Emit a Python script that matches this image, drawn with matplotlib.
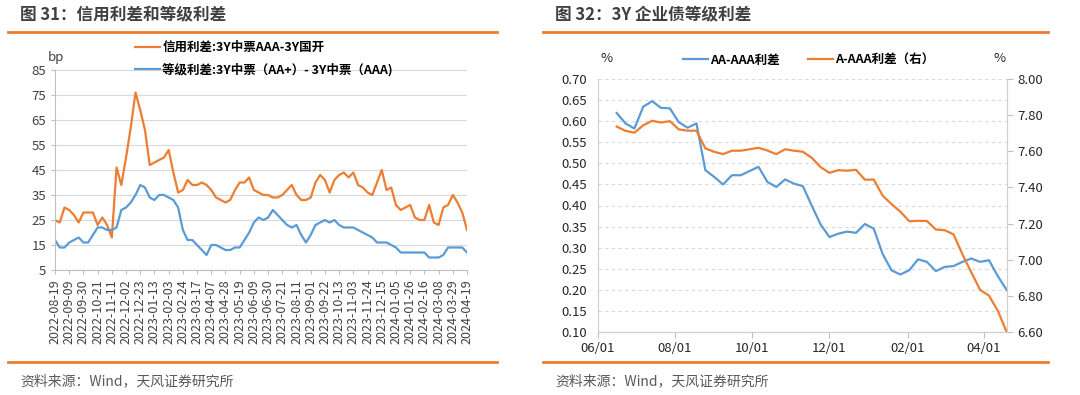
import pandas as pd
import matplotlib.pyplot as plt
import matplotlib.dates as mdates
from matplotlib.lines import Line2D

plt.rcParams['font.family'] = ['Noto Sans CJK SC', 'DejaVu Sans']
plt.rcParams['axes.unicode_minus'] = False

ORANGE = '#ED7D31'
BLUE = '#5B9BD5'
GREY_TXT = '#404040'

# ---- chart 31 data (weekly, bp) ----
dates_31 = pd.date_range('2022-08-19', periods=88, freq='7D')
credit_spread = [25, 24, 30, 29, 27, 24, 28, 28, 28, 23, 26, 23, 18, 46, 39, 50,
                 62, 76, 69, 61, 47, 48, 49, 50, 53, 44, 36, 37, 41, 39, 39, 40,
                 39, 37, 34, 33, 32, 33, 37, 40, 40, 42, 37, 36, 35, 35, 34, 34,
                 35, 37, 39, 35, 33, 33, 34, 40, 43, 41, 36, 41, 43, 44, 42, 44,
                 39, 38, 36, 35, 40, 45, 37, 38, 31, 29, 30, 31, 26, 25, 25, 31,
                 24, 23, 30, 31, 35, 32, 28, 21]
grade_spread = [17, 14, 14, 16, 17, 18, 16, 16, 19, 22, 22, 21, 21, 22, 29, 30,
                32, 35, 39, 38, 34, 33, 35, 35, 34, 33, 30, 21, 17, 17, 15, 13,
                11, 15, 15, 14, 13, 13, 14, 14, 17, 20, 24, 26, 25, 26, 29, 27,
                25, 23, 22, 23, 19, 16, 19, 23, 24, 25, 24, 25, 23, 22, 22, 22,
                21, 20, 19, 18, 16, 16, 16, 15, 14, 12, 12, 12, 12, 12, 12, 10,
                10, 10, 11, 14, 14, 14, 14, 12]
label_credit = '信用利差:3Y中票AAA-3Y国开'
label_grade = '等级利差:3Y中票（AA+）- 3Y中票（AAA)'

# ---- chart 32 data (weekly, %) ----
dates_32 = pd.date_range('2023-06-16', periods=45, freq='7D')
aa_aaa = [0.620, 0.595, 0.583, 0.635, 0.648, 0.632, 0.631, 0.598, 0.585, 0.595,
          0.484, 0.468, 0.450, 0.472, 0.472, 0.482, 0.492, 0.456, 0.444, 0.462,
          0.452, 0.446, 0.400, 0.355, 0.325, 0.333, 0.338, 0.335, 0.356, 0.345,
          0.285, 0.246, 0.236, 0.246, 0.272, 0.266, 0.244, 0.254, 0.256, 0.266,
          0.274, 0.266, 0.270, 0.232, 0.199]
a_aaa = [7.738, 7.714, 7.704, 7.745, 7.770, 7.760, 7.768, 7.722, 7.715, 7.715,
         7.617, 7.598, 7.585, 7.604, 7.604, 7.612, 7.620, 7.605, 7.585, 7.612,
         7.604, 7.598, 7.565, 7.513, 7.481, 7.496, 7.493, 7.498, 7.443, 7.444,
         7.355, 7.308, 7.266, 7.213, 7.215, 7.214, 7.167, 7.163, 7.140, 7.030,
         6.930, 6.832, 6.800, 6.716, 6.598]

fig = plt.figure(figsize=(10.8, 3.95), dpi=100)

# header / footer decorations
for x0, x1, title in [(8, 497, '图 31：信用利差和等级利差'),
                      (543, 1048, '图 32：3Y 企业债等级利差')]:
    fig.add_artist(Line2D([x0 / 1080, x1 / 1080], [1 - 32 / 395] * 2, color=ORANGE, lw=2))
    fig.add_artist(Line2D([x0 / 1080, x1 / 1080], [1 - 362 / 395] * 2, color=ORANGE, lw=2))
    fig.text((x0 + 12) / 1080, 1 - 15 / 395, title, fontsize=12, fontweight='bold',
             color=GREY_TXT, va='center')
    fig.text((x0 + 12) / 1080, 1 - 381 / 395, '资料来源：Wind，天风证券研究所',
             fontsize=10, color='#595959', va='center')

# ---- left chart ----
ax1 = fig.add_axes([55 / 1080, 1 - 270 / 395, 412 / 1080, 200 / 395])
l1, = ax1.plot(dates_31, credit_spread, color=ORANGE, lw=1.6, label=label_credit)
l2, = ax1.plot(dates_31, grade_spread, color=BLUE, lw=1.6, label=label_grade)
ax1.set_ylim(5, 85)
ax1.set_yticks(range(5, 86, 10))
ax1.set_xlim(dates_31[0], dates_31[-1])
ax1.set_xticks(pd.date_range('2022-08-19', '2024-04-19', freq='21D'))
ax1.xaxis.set_major_formatter(mdates.DateFormatter('%Y-%m-%d'))
ax1.tick_params(axis='x', rotation=90, labelsize=9, length=3, color='#BFBFBF', colors=GREY_TXT)
ax1.tick_params(axis='y', labelsize=9.5, length=3, color='#BFBFBF', colors=GREY_TXT)
ax1.grid(axis='y', color='#D9D9D9', lw=0.8)
ax1.set_axisbelow(True)
for s in ['top', 'right']:
    ax1.spines[s].set_visible(False)
for s in ['left', 'bottom']:
    ax1.spines[s].set_color('#BFBFBF')
fig.text(48 / 1080, 1 - 57 / 395, 'bp', fontsize=9.5, color=GREY_TXT, va='center')
fig.legend(handles=[l1, l2], loc='upper left', bbox_to_anchor=(135 / 1080, 1 - 41 / 395),
           frameon=False, handlelength=2.0, handletextpad=0.2, labelspacing=0.75,
           prop={'size': 9, 'weight': 'bold'}, borderaxespad=0, borderpad=0)

# ---- right chart ----
ax2 = fig.add_axes([597.7 / 1080, 1 - 331.7 / 395, 409 / 1080, 252.4 / 395])
ax3 = ax2.twinx()
r1, = ax2.plot(dates_32, aa_aaa, color=BLUE, lw=1.6, label='AA-AAA利差')
r2, = ax3.plot(dates_32, a_aaa, color=ORANGE, lw=1.6, label='A-AAA利差（右）')
ax2.set_ylim(0.10, 0.70)
ax2.set_yticks([0.10 + 0.05 * i for i in range(13)])
ax2.yaxis.set_major_formatter(plt.FormatStrFormatter('%.2f'))
ax3.set_ylim(6.60, 8.00)
ax3.set_yticks([6.60 + 0.2 * i for i in range(8)])
ax3.yaxis.set_major_formatter(plt.FormatStrFormatter('%.2f'))
ax2.set_xlim(pd.Timestamp('2023-06-01'), pd.Timestamp('2024-04-19'))
ax2.set_xticks(pd.to_datetime(['2023-06-01', '2023-08-01', '2023-10-01',
                               '2023-12-01', '2024-02-01', '2024-04-01']))
ax2.xaxis.set_major_formatter(mdates.DateFormatter('%m/%d'))
ax2.grid(axis='y', color='#D9D9D9', lw=0.8, ls=(0, (3, 3)))
ax2.set_axisbelow(True)
ax2.tick_params(axis='x', labelsize=9.5, length=4, color='#BFBFBF', colors='#262626')
ax2.tick_params(axis='y', labelsize=9.5, length=0, colors='#262626', pad=8)
ax3.tick_params(axis='y', labelsize=9.5, length=4, color='#BFBFBF', colors='#262626')
for a in (ax2, ax3):
    a.spines['top'].set_visible(False)
    for s in ['left', 'right', 'bottom']:
        a.spines[s].set_color('#D0D0D0')
fig.text(607 / 1080, 1 - 58 / 395, '%', fontsize=9.5, color='#262626', va='center', ha='center')
fig.text(1000 / 1080, 1 - 58 / 395, '%', fontsize=9.5, color='#262626', va='center', ha='center')
fig.legend(handles=[r1, r2], loc='center left', bbox_to_anchor=(683 / 1080, 1 - 60 / 395),
           ncol=2, frameon=False, handlelength=2.0, handletextpad=0.2, columnspacing=2.2,
           prop={'size': 9, 'weight': 'bold'}, borderaxespad=0, borderpad=0)

fig.savefig('out.png', dpi=100)
